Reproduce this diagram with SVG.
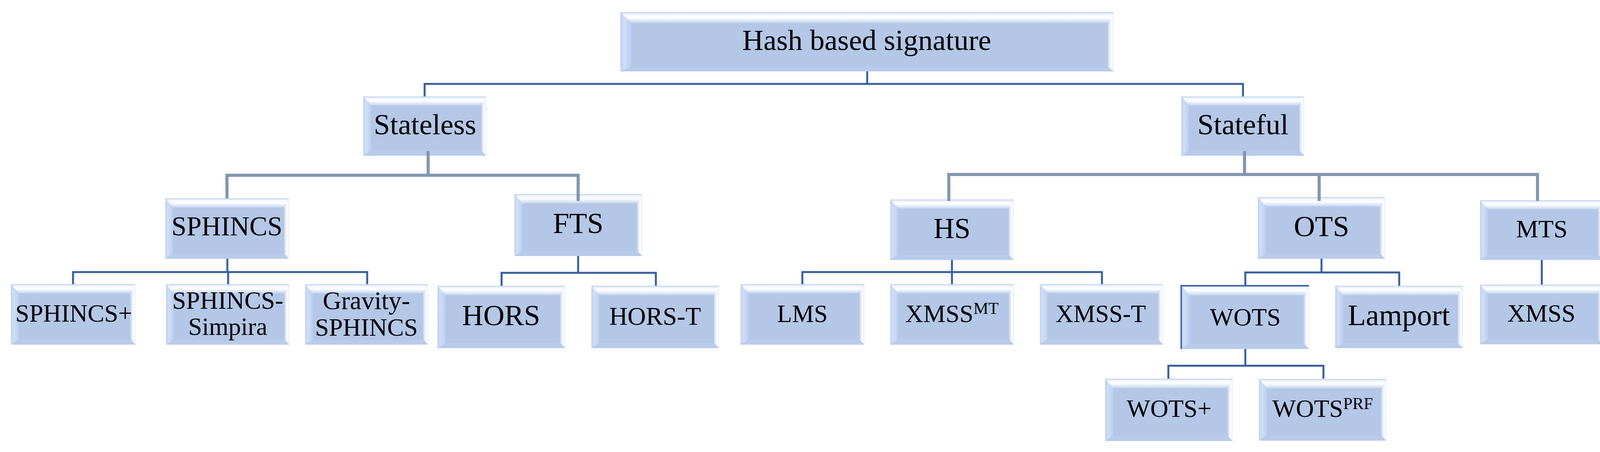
<svg xmlns="http://www.w3.org/2000/svg" width="4125" height="1158" viewBox="0 0 4125 1158">
<style>
  .t { font-family: "Liberation Serif", "Times New Roman", serif; fill: #000; text-anchor: middle; }
  .c-blue { fill: none; stroke: #365f9f; stroke-width: 5; stroke-linejoin: miter; }
  .c-gray { fill: none; stroke: #8497b0; stroke-width: 8; stroke-linejoin: miter; }
  .edge { fill: none; stroke: #4268ad; stroke-width: 4; }
</style>
<defs>
  <linearGradient id="gTop" x1="0" y1="0" x2="0" y2="1">
    <stop offset="0" stop-color="#bccde9"/>
    <stop offset="0.2" stop-color="#f2f7ff"/>
    <stop offset="0.5" stop-color="#ffffff"/>
    <stop offset="1" stop-color="#c4d5f0"/>
  </linearGradient>
  <linearGradient id="gLeft" x1="0" y1="0" x2="1" y2="0">
    <stop offset="0" stop-color="#bfd0ee"/>
    <stop offset="0.35" stop-color="#d0dff7"/>
    <stop offset="1" stop-color="#bccfee"/>
  </linearGradient>
  <linearGradient id="gRight" x1="0" y1="0" x2="1" y2="0">
    <stop offset="0" stop-color="#c6d6f1"/>
    <stop offset="0.6" stop-color="#ffffff"/>
    <stop offset="1" stop-color="#e6eefb"/>
  </linearGradient>
  <symbol id="bevel" viewBox="0 0 320 158" preserveAspectRatio="none">
    <rect width="320" height="158" fill="#b4c7e7"/>
    <polygon points="0,0 320,0 307,24 20,24" fill="url(#gTop)"/>
    <polygon points="0,0 20,24 20,145 0,158" fill="url(#gLeft)"/>
    <polygon points="320,0 320,158 307,145 307,24" fill="url(#gRight)"/>
    <polygon points="0,158 20,145 307,145 320,158" fill="#b9cbea"/>
  </symbol>
  <symbol id="bevelWide" viewBox="0 0 1263 152" preserveAspectRatio="none">
    <rect width="1263" height="152" fill="#b4c7e7"/>
    <polygon points="0,0 1263,0 1248,28 28,28" fill="url(#gTop)"/>
    <polygon points="0,0 28,28 28,140 0,152" fill="url(#gLeft)"/>
    <polygon points="1263,0 1263,152 1248,140 1248,28" fill="url(#gRight)"/>
    <polygon points="0,152 28,140 1248,140 1263,152" fill="#b9cbea"/>
  </symbol>
</defs>
<rect width="4125" height="1158" fill="#ffffff"/>

<g id="nodes">
  <g id="n-root"><use href="#bevelWide" x="1588" y="31" width="1263" height="152"/><text class="t" x="2219" y="128" font-size="75">Hash based signature</text></g>
  <g id="n-stateless"><use href="#bevel" x="930" y="247" width="315" height="152"/><text class="t" x="1088" y="344" font-size="75">Stateless</text></g>
  <g id="n-stateful"><use href="#bevel" x="3024" y="247" width="315" height="152"/><text class="t" x="3182" y="344" font-size="75">Stateful</text></g>
  <g id="n-sphincs"><use href="#bevel" x="423" y="508" width="317" height="155"/><text class="t" x="581" y="603" font-size="69">SPHINCS</text></g>
  <g id="n-fts"><use href="#bevel" x="1317" y="497" width="327" height="159"/><text class="t" x="1480" y="597" font-size="75">FTS</text></g>
  <g id="n-hs"><use href="#bevel" x="2279" y="511" width="316" height="155"/><text class="t" x="2437" y="610" font-size="74">HS</text></g>
  <g id="n-ots"><use href="#bevel" x="3220" y="505" width="326" height="158"/><text class="t" x="3383" y="605" font-size="75">OTS</text></g>
  <g id="n-mts"><use href="#bevel" x="3789" y="513" width="315" height="153"/><text class="t" x="3947" y="608" font-size="64">MTS</text></g>
  <g id="n-sphincs-plus"><use href="#bevel" x="28" y="728" width="319" height="155"/><text class="t" x="189" y="824" font-size="64">SPHINCS+</text></g>
  <g id="n-sphincs-simpira"><use href="#bevel" x="425" y="728" width="316" height="155"/><text class="t" x="583" y="791" font-size="64">SPHINCS-</text><text class="t" x="583" y="858" font-size="64">Simpira</text></g>
  <g id="n-gravity-sphincs"><use href="#bevel" x="781" y="728" width="315" height="155"/><text class="t" x="938" y="792" font-size="66">Gravity-</text><text class="t" x="938" y="860" font-size="64">SPHINCS</text></g>
  <g id="n-hors"><use href="#bevel" x="1120" y="732" width="327" height="160"/><text class="t" x="1283" y="833" font-size="75">HORS</text></g>
  <g id="n-hors-t"><use href="#bevel" x="1514" y="732" width="327" height="160"/><text class="t" x="1677" y="832" font-size="65">HORS-T</text></g>
  <g id="n-lms"><use href="#bevel" x="1896" y="728" width="317" height="155"/><text class="t" x="2054" y="825" font-size="63">LMS</text></g>
  <g id="n-xmss-mt"><use href="#bevel" x="2279" y="728" width="317" height="155"/><text class="t" x="2437" y="825" font-size="64">XMSS<tspan font-size="43" dy="-21">MT</tspan></text></g>
  <g id="n-xmss-t"><use href="#bevel" x="2662" y="728" width="316" height="155"/><text class="t" x="2818" y="825" font-size="63">XMSS-T</text></g>
  <g id="n-wots"><use href="#bevel" x="3024" y="732" width="327" height="162"/><path class="edge" d="M3024,894 V732 H3351"/><text class="t" x="3188" y="834" font-size="64">WOTS</text></g>
  <g id="n-lamport"><use href="#bevel" x="3418" y="732" width="327" height="160"/><text class="t" x="3581" y="833" font-size="76">Lamport</text></g>
  <g id="n-xmss"><use href="#bevel" x="3789" y="729" width="315" height="153"/><text class="t" x="3946" y="824" font-size="64">XMSS</text></g>
  <g id="n-wots-plus"><use href="#bevel" x="2829" y="970" width="327" height="160"/><text class="t" x="2993" y="1068" font-size="64">WOTS+</text></g>
  <g id="n-wots-prf"><use href="#bevel" x="3223" y="971" width="326" height="158"/><text class="t" x="3386" y="1068" font-size="64">WOTS<tspan font-size="43" dy="-20">PRF</tspan></text></g>
</g>

<g id="connectors">
  <path class="c-blue" d="M2220,183 V215 M1087,247 V215 H3182 V247"/>
  <path class="c-gray" d="M1096,387 V449 M581,508 V449 H1480 V515"/>
  <path class="c-gray" d="M3186,387 V447 M2429,515 V447 H3936 V515 M3377,447 V515"/>
  <path class="c-blue" d="M582,663 V697 M187,728 V697 H940 V728 M584,697 V728"/>
  <path class="c-blue" d="M1480,656 V699 M1284,732 V699 H1679 V732"/>
  <path class="c-blue" d="M2437,666 V728 M2054,728 V697 H2821 V728"/>
  <path class="c-blue" d="M3383,663 V698 M3188,732 V698 H3582 V732"/>
  <path class="c-blue" d="M3947,666 V729"/>
  <path class="c-blue" d="M3188,894 V937 M2991,970 V937 H3388 V970"/>
</g>
</svg>
